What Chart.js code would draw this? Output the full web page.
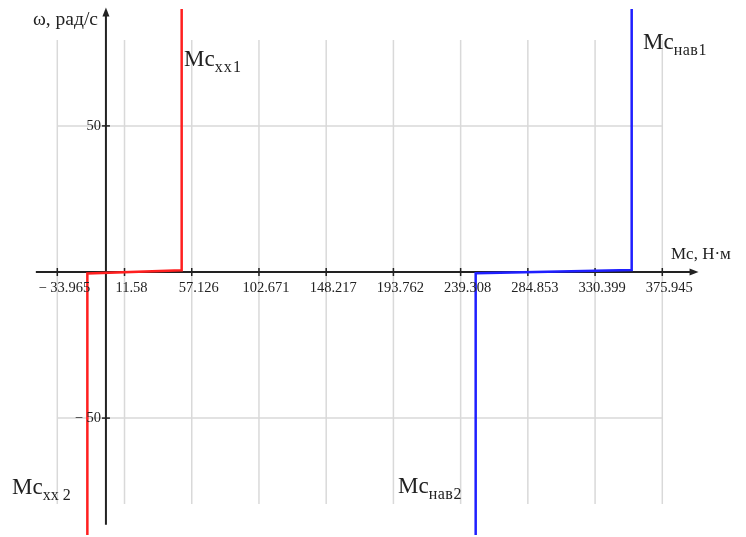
<!DOCTYPE html>
<html>
<head>
<meta charset="utf-8">
<script src="https://cdn.jsdelivr.net/npm/chart.js@4.4.0/dist/chart.umd.min.js"></script>
<style>
  html, body { margin: 0; padding: 0; background: #fff; }
  #wrap { width: 746px; height: 537px; }
</style>
</head>
<body>
<div id="wrap"><canvas id="myChart" width="746" height="537"></canvas></div>
<script>
// тики осей (как в Mathcad)
const xTicks = [-33.965, 11.58, 57.126, 102.671, 148.217, 193.762, 239.308, 284.853, 330.399, 375.945]
const yTicks = [-50, 50]

// Mc_xx : момент / скорость
const mcxxM = [-13.6, -13.6, 50.3, 50.3]
const mcxxW = [-90, -0.5, 0.6, 90]

// Mc_нав
const mcnavM = [249.5, 249.5, 355.2, 355.2]
const mcnavW = [-90, -0.4, 0.7, 90]

const toPoints = (xs, ys) => xs.map((x, i) => ({ x: x, y: ys[i] }))

const SERIF = '"Liberation Serif", "Times New Roman", serif'

const fmtTick = (v) => v < 0 ? '\u2212 ' + Math.abs(v) : String(v)

const mathcadAxes = {
    id: 'mathcadAxes',
    beforeDatasetsDraw(chart) {
        const ctx = chart.ctx
        const xs = chart.scales.x
        const ys = chart.scales.y
        const area = chart.chartArea
        ctx.save()

        // сетка
        ctx.strokeStyle = '#d9d9d9'
        ctx.lineWidth = 1.5
        xTicks.forEach(v => {
            const px = xs.getPixelForValue(v)
            ctx.beginPath()
            ctx.moveTo(px, area.top)
            ctx.lineTo(px, area.bottom)
            ctx.stroke()
        })
        yTicks.forEach(v => {
            const py = ys.getPixelForValue(v)
            ctx.beginPath()
            ctx.moveTo(area.left, py)
            ctx.lineTo(area.right, py)
            ctx.stroke()
        })

        // оси
        const x0 = xs.getPixelForValue(0) - 1.5
        const y0 = ys.getPixelForValue(0)
        const xL = xs.getPixelForValue(-48.5)
        const xR = xs.getPixelForValue(400.5)
        const yT = ys.getPixelForValue(90.5)
        const yB = ys.getPixelForValue(-86.5)
        ctx.strokeStyle = '#222'
        ctx.fillStyle = '#222'
        ctx.lineWidth = 2
        ctx.beginPath()
        ctx.moveTo(xL, y0)
        ctx.lineTo(xR - 6, y0)
        ctx.moveTo(x0, yB)
        ctx.lineTo(x0, yT + 6)
        ctx.stroke()
        // стрелки
        ctx.beginPath()
        ctx.moveTo(xR, y0)
        ctx.lineTo(xR - 9, y0 - 3.5)
        ctx.lineTo(xR - 9, y0 + 3.5)
        ctx.closePath()
        ctx.fill()
        ctx.beginPath()
        ctx.moveTo(x0, yT)
        ctx.lineTo(x0 - 3.5, yT + 9)
        ctx.lineTo(x0 + 3.5, yT + 9)
        ctx.closePath()
        ctx.fill()

        // засечки
        ctx.lineWidth = 1.5
        xTicks.forEach(v => {
            const px = xs.getPixelForValue(v)
            ctx.beginPath()
            ctx.moveTo(px, y0 - 4)
            ctx.lineTo(px, y0 + 4)
            ctx.stroke()
        })
        yTicks.forEach(v => {
            const py = ys.getPixelForValue(v)
            ctx.beginPath()
            ctx.moveTo(x0 - 4, py)
            ctx.lineTo(x0 + 4, py)
            ctx.stroke()
        })
        ctx.restore()
    },
    afterDatasetsDraw(chart) {
        const ctx = chart.ctx
        const xs = chart.scales.x
        const ys = chart.scales.y
        const x0 = xs.getPixelForValue(0) - 1.5
        const y0 = ys.getPixelForValue(0)
        ctx.save()
        ctx.fillStyle = '#222'

        // подписи тиков
        ctx.font = '14.5px ' + SERIF
        ctx.textAlign = 'center'
        ctx.textBaseline = 'alphabetic'
        xTicks.forEach(v => {
            ctx.fillText(fmtTick(v), xs.getPixelForValue(v) + 7, y0 + 20)
        })
        ctx.textAlign = 'right'
        ctx.textBaseline = 'middle'
        yTicks.forEach(v => {
            ctx.fillText(fmtTick(v), x0 - 5, ys.getPixelForValue(v))
        })

        // названия осей
        ctx.font = '19.5px ' + SERIF
        ctx.textBaseline = 'alphabetic'
        ctx.textAlign = 'right'
        ctx.fillText('\u03c9, рад/с', 98, 25)
        ctx.font = '17px ' + SERIF
        ctx.textAlign = 'left'
        ctx.fillText('Mc, Н\u00b7м', 671, 259)

        // подписи кривых
        const lbl = (x, y, sub, sp) => {
            ctx.font = '23px ' + SERIF
            ctx.letterSpacing = '0px'
            ctx.textAlign = 'left'
            ctx.fillText('Mc', x, y)
            const w = ctx.measureText('Mc').width
            ctx.font = '16px ' + SERIF
            ctx.letterSpacing = sp
            ctx.fillText(sub, x + w, y + 6)
            ctx.letterSpacing = '0px'
        }
        lbl(184, 66, 'xx1', '1.2px')
        lbl(12, 494, 'xx 2', '0px')
        lbl(398, 493, 'нав2', '0.5px')
        lbl(643, 49, 'нав1', '0.5px')
        ctx.restore()
    }
}

var ctx = document.getElementById('myChart')
var myChart = new Chart(ctx, {
    type: 'scatter',
    data: {
        datasets: [{
            label: 'Mc_xx',
            data: toPoints(mcxxM, mcxxW),
            showLine: true,
            borderColor: '#ff1f1f',
            borderWidth: 2.5,
            pointRadius: 0,
            clip: false
        }, {
            label: 'Mc_нав',
            data: toPoints(mcnavM, mcnavW),
            showLine: true,
            borderColor: '#1f1fff',
            borderWidth: 2.5,
            pointRadius: 0,
            clip: false
        }]
    },
    options: {
        responsive: false,
        animation: false,
        layout: {
            padding: { left: 57.3, right: 83.7, top: 40, bottom: 33 }
        },
        plugins: {
            legend: { display: false },
            tooltip: { enabled: false }
        },
        scales: {
            x: { type: 'linear', display: false, min: -33.965, max: 375.945 },
            y: { type: 'linear', display: false, min: -79.4, max: 79.4 }
        }
    },
    plugins: [mathcadAxes]
})
</script>
</body>
</html>
